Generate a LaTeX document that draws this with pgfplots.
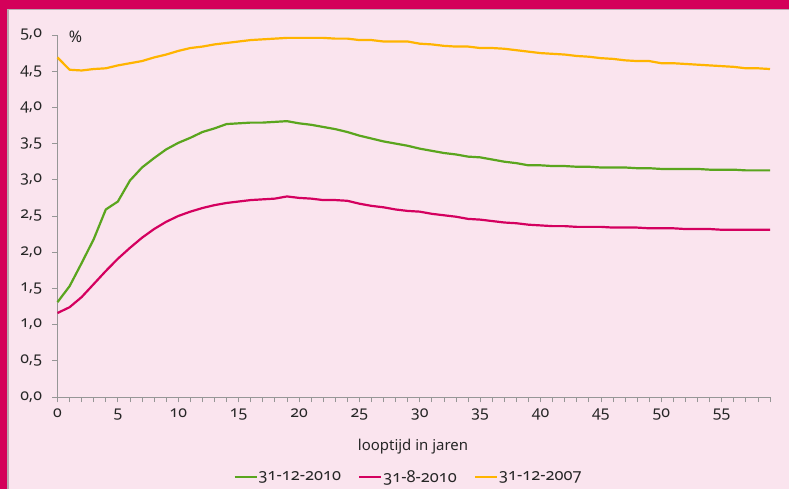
\documentclass[border=0pt]{standalone}
\usepackage{fontspec}
\setmainfont{Noto Sans}[Numbers=OldStyle]
\newfontfamily\osfont{Noto Sans}[Numbers=OldStyle]
\newcommand\os[1]{\mbox{\osfont #1}}
\usepackage{pgfplots}
\pgfplotsset{compat=1.18}
\definecolor{pinkbg}{RGB}{250,228,238}
\definecolor{magborder}{RGB}{212,0,90}
\definecolor{bordergray}{RGB}{185,170,178}
\definecolor{axisgray}{RGB}{150,150,150}
\definecolor{cgreen}{RGB}{90,165,30}
\definecolor{cmag}{RGB}{212,0,95}
\definecolor{corange}{RGB}{255,180,0}
\begin{document}
\begin{tikzpicture}
\useasboundingbox (-57.5bp,-92bp) rectangle (731.5bp,397bp);
\fill[pinkbg] (-57.5bp,-92bp) rectangle (731.5bp,397bp);
\fill[bordergray] (-57.5bp,386.5bp) rectangle (731.5bp,397bp);
\fill[bordergray] (-57.5bp,-92bp) rectangle (-48.7bp,397bp);
\fill[magborder] (-57.5bp,388bp) rectangle (731.5bp,397bp);
\fill[magborder] (-57.5bp,-92bp) rectangle (-50.2bp,397bp);
\begin{axis}[
  at={(0,0)}, anchor=south west,
  scale only axis,
  width=712.5bp, height=362bp,
  xmin=0, xmax=59, ymin=0, ymax=5,
  enlargelimits=false,
  axis x line*=bottom, axis y line*=left,
  axis line style={-, draw=axisgray, line width=0.8bp},
  tick style={draw=axisgray, line width=0.8bp},
  tick align=outside,
  major tick length=5bp, minor tick length=5bp,
  xtick={0,5,10,15,20,25,30,35,40,45,50,55},
  xticklabels={\os{0},\os{5},\os{10},\os{15},\os{20},\os{25},\os{30},\os{35},\os{40},\os{45},\os{50},\os{55}},
  minor xtick={0,1,...,59},
  ytick={0,0.5,1,1.5,2,2.5,3,3.5,4,4.5,5},
  yticklabels={\os{0,0},\os{0,5},\os{1,0},\os{1,5},\os{2,0},\os{2,5},\os{3,0},\os{3,5},\os{4,0},\os{4,5},\os{5,0}},
  tick label style={font=\fontsize{16}{18}\selectfont, text=black!85},
  yticklabel style={xshift=-7bp},
  xticklabel style={yshift=-3bp},
  xlabel={looptijd in jaren},
  xlabel style={at={(axis description cs:0.499,-0.137)}, anchor=center, font=\fontsize{15}{17}\selectfont, text=black!85},
  legend columns=3,
  legend style={at={(axis description cs:0.492,-0.221)}, anchor=center, draw=none, fill=none,
    font=\fontsize{16.5}{18}\selectfont, text=black!85,
    nodes={inner xsep=1bp},
    /tikz/every odd column/.append style={column sep=0bp},
    /tikz/every even column/.append style={column sep=16bp}},
  legend image code/.code={\draw[#1, line width=2.2bp] (0bp,0bp) -- (22bp,0bp);},
  every axis plot/.append style={line width=2.2bp, line join=round},
  clip=false,
]
\addplot[cgreen, no marks] coordinates {
(0,1.31)(1,1.53)(2,1.85)(3,2.18)(4,2.59)(5,2.70)(6,2.99)(7,3.17)(8,3.30)(9,3.42)
(10,3.51)(11,3.58)(12,3.66)(13,3.71)(14,3.77)(15,3.78)(16,3.79)(17,3.79)(18,3.80)(19,3.81)
(20,3.78)(21,3.76)(22,3.73)(23,3.70)(24,3.66)(25,3.61)(26,3.57)(27,3.53)(28,3.50)(29,3.47)
(30,3.43)(31,3.40)(32,3.37)(33,3.35)(34,3.32)(35,3.31)(36,3.28)(37,3.25)(38,3.23)(39,3.20)
(40,3.20)(41,3.19)(42,3.19)(43,3.18)(44,3.18)(45,3.17)(46,3.17)(47,3.17)(48,3.16)(49,3.16)
(50,3.15)(51,3.15)(52,3.15)(53,3.15)(54,3.14)(55,3.14)(56,3.14)(57,3.13)(58,3.13)(59,3.13)
};
\addlegendentry{31-12-2010}
\addplot[cmag, no marks] coordinates {
(0,1.16)(1,1.24)(2,1.38)(3,1.56)(4,1.74)(5,1.91)(6,2.06)(7,2.20)(8,2.32)(9,2.42)
(10,2.50)(11,2.56)(12,2.61)(13,2.65)(14,2.68)(15,2.70)(16,2.72)(17,2.73)(18,2.74)(19,2.77)
(20,2.75)(21,2.74)(22,2.72)(23,2.72)(24,2.71)(25,2.67)(26,2.64)(27,2.62)(28,2.59)(29,2.57)
(30,2.56)(31,2.53)(32,2.51)(33,2.49)(34,2.46)(35,2.45)(36,2.43)(37,2.41)(38,2.40)(39,2.38)
(40,2.37)(41,2.36)(42,2.36)(43,2.35)(44,2.35)(45,2.35)(46,2.34)(47,2.34)(48,2.34)(49,2.33)
(50,2.33)(51,2.33)(52,2.32)(53,2.32)(54,2.32)(55,2.31)(56,2.31)(57,2.31)(58,2.31)(59,2.31)
};
\addlegendentry{31-8-2010}
\addplot[corange, no marks] coordinates {
(0,4.69)(1,4.52)(2,4.51)(3,4.53)(4,4.54)(5,4.58)(6,4.61)(7,4.64)(8,4.69)(9,4.73)
(10,4.78)(11,4.82)(12,4.84)(13,4.87)(14,4.89)(15,4.91)(16,4.93)(17,4.94)(18,4.95)(19,4.96)
(20,4.96)(21,4.96)(22,4.96)(23,4.95)(24,4.95)(25,4.93)(26,4.93)(27,4.91)(28,4.91)(29,4.91)
(30,4.88)(31,4.87)(32,4.85)(33,4.84)(34,4.84)(35,4.82)(36,4.82)(37,4.81)(38,4.79)(39,4.77)
(40,4.75)(41,4.74)(42,4.73)(43,4.71)(44,4.70)(45,4.68)(46,4.67)(47,4.65)(48,4.64)(49,4.64)
(50,4.61)(51,4.61)(52,4.60)(53,4.59)(54,4.58)(55,4.57)(56,4.56)(57,4.54)(58,4.54)(59,4.53)
};
\addlegendentry{31-12-2007}
\node[anchor=center, font=\fontsize{16}{18}\selectfont, text=black!85] at (axis cs:1.5,4.97) {\%};
\end{axis}
\end{tikzpicture}
\end{document}
